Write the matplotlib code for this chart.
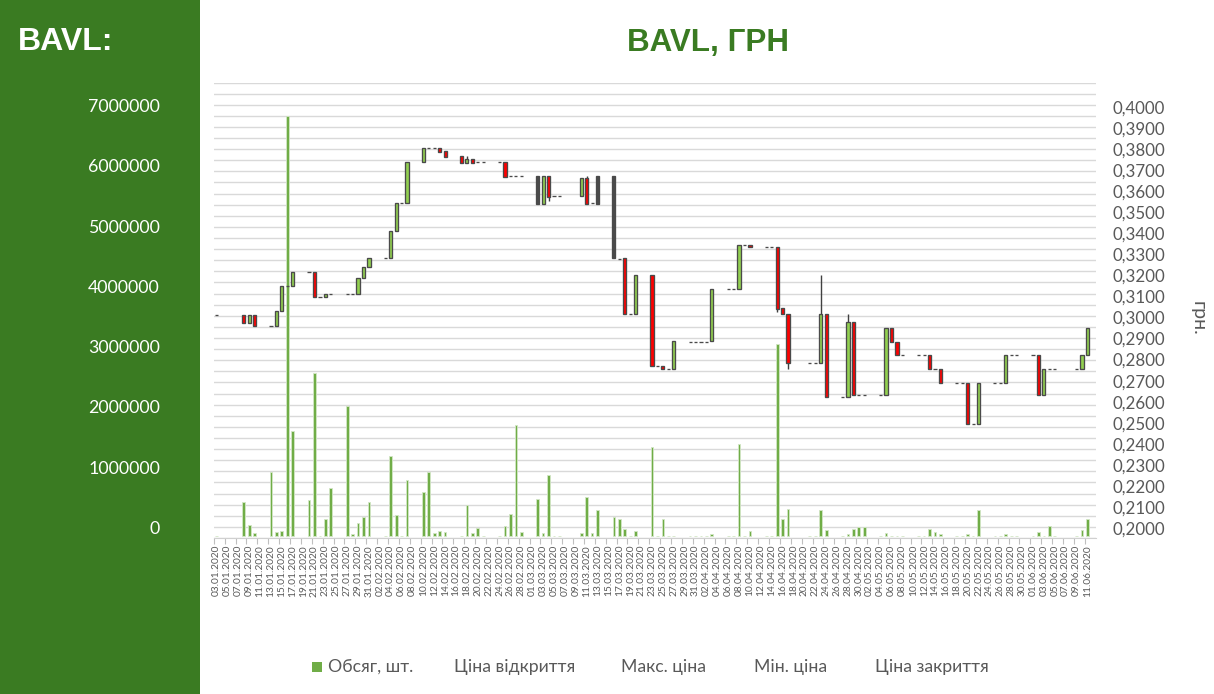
import numpy as np
import pandas as pd
import matplotlib
matplotlib.use('Agg')
import matplotlib.pyplot as plt
import matplotlib.dates as mdates
from matplotlib.patches import Rectangle
from matplotlib.ticker import FuncFormatter

plt.rcParams['font.family'] = ['Lato', 'DejaVu Sans']

# торгові дні (2020)
dates = ['03.01',
         '08.01', '09.01', '10.01',
         '13.01', '14.01', '15.01', '16.01', '17.01',
         '20.01', '21.01', '22.01', '23.01', '24.01',
         '27.01', '28.01', '29.01', '30.01', '31.01',
         '03.02', '04.02', '05.02', '06.02', '07.02',
         '10.02', '11.02', '12.02', '13.02', '14.02',
         '17.02', '18.02', '19.02', '20.02', '21.02',
         '24.02', '25.02', '26.02', '27.02', '28.02',
         '02.03', '03.03', '04.03', '05.03', '06.03',
         '10.03', '11.03', '12.03', '13.03',
         '16.03', '17.03', '18.03', '19.03', '20.03',
         '23.03', '24.03', '25.03', '26.03', '27.03',
         '30.03', '31.03', '01.04', '02.04', '03.04',
         '06.04', '07.04', '08.04', '09.04', '10.04',
         '13.04', '14.04', '15.04', '16.04', '17.04',
         '21.04', '22.04', '23.04', '24.04',
         '27.04', '28.04', '29.04', '30.04', '01.05',
         '04.05', '05.05', '06.05', '07.05', '08.05',
         '11.05', '12.05', '13.05', '14.05', '15.05',
         '18.05', '19.05', '20.05', '21.05', '22.05',
         '25.05', '26.05', '27.05', '28.05', '29.05',
         '01.06', '02.06', '03.06', '04.06', '05.06',
         '09.06', '10.06', '11.06']

open_ = [0.3010,
         0.3010, 0.2975, 0.3010,
         0.2961, 0.2961, 0.3029, 0.3148, 0.3148,
         0.3215, 0.3215, 0.3096, 0.3096, 0.3110,
         0.3110, 0.3110, 0.3110, 0.3186, 0.3238,
         0.3281, 0.3281, 0.3409, 0.3542, 0.3542,
         0.3737, 0.3804, 0.3804, 0.3804, 0.3791,
         0.3766, 0.3736, 0.3751, 0.3737, 0.3737,
         0.3737, 0.3737, 0.3670, 0.3670, 0.3670,
         0.3670, 0.3541, 0.3670, 0.3579, 0.3579,
         0.3579, 0.3661, 0.3542, 0.3541,
         0.3670, 0.3279, 0.3281, 0.3015, 0.3015,
         0.3200, 0.2768, 0.2768, 0.2754, 0.2754,
         0.2884, 0.2884, 0.2884, 0.2884, 0.2887,
         0.3134, 0.3134, 0.3134, 0.3343, 0.3343,
         0.3333, 0.3333, 0.3333, 0.3044, 0.3015,
         0.2782, 0.2782, 0.2782, 0.3015,
         0.2621, 0.2621, 0.2977, 0.2633, 0.2633,
         0.2633, 0.2633, 0.2949, 0.2885, 0.2820,
         0.2820, 0.2820, 0.2820, 0.2754, 0.2754,
         0.2687, 0.2687, 0.2687, 0.2492, 0.2492,
         0.2687, 0.2687, 0.2687, 0.2820, 0.2820,
         0.2820, 0.2820, 0.2633, 0.2754, 0.2754,
         0.2754, 0.2754, 0.2820]

close = [0.3010,
         0.2975, 0.3010, 0.2961,
         0.2961, 0.3029, 0.3148, 0.3148, 0.3215,
         0.3215, 0.3096, 0.3096, 0.3110, 0.3110,
         0.3110, 0.3110, 0.3186, 0.3238, 0.3281,
         0.3281, 0.3409, 0.3542, 0.3542, 0.3737,
         0.3804, 0.3804, 0.3804, 0.3788, 0.3764,
         0.3736, 0.3751, 0.3736, 0.3737, 0.3737,
         0.3737, 0.3669, 0.3670, 0.3670, 0.3670,
         0.3541, 0.3670, 0.3574, 0.3579, 0.3579,
         0.3661, 0.3541, 0.3542, 0.3670,
         0.3281, 0.3279, 0.3015, 0.3015, 0.3200,
         0.2768, 0.2768, 0.2754, 0.2754, 0.2887,
         0.2884, 0.2884, 0.2884, 0.2884, 0.3134,
         0.3134, 0.3134, 0.3343, 0.3343, 0.3333,
         0.3333, 0.3333, 0.3042, 0.3015, 0.2782,
         0.2782, 0.2782, 0.3015, 0.2621,
         0.2621, 0.2977, 0.2633, 0.2633, 0.2633,
         0.2633, 0.2949, 0.2885, 0.2820, 0.2820,
         0.2820, 0.2820, 0.2754, 0.2754, 0.2687,
         0.2687, 0.2687, 0.2492, 0.2492, 0.2687,
         0.2687, 0.2687, 0.2820, 0.2820, 0.2820,
         0.2820, 0.2633, 0.2754, 0.2754, 0.2754,
         0.2754, 0.2820, 0.2949]

# тіні, відмінні від тіла свічки
high_extra = {'18.02': 0.3766, '11.03': 0.3670, '23.04': 0.3200, '28.04': 0.3015}
low_extra = {'04.03': 0.3555, '15.04': 0.3028, '17.04': 0.2754}

volume = [0,
          558000, 182000, 50000,
          1067000, 61000, 83000, 6966000, 1742000,
          597000, 2704000, 0, 276000, 802000,
          2162000, 39000, 221000, 321000, 558000,
          0, 1327000, 343000, 0, 929000,
          724000, 1067000, 44000, 88000, 72000,
          0, 520000, 50000, 138000, 0,
          0, 166000, 370000, 1841000, 72000,
          614000, 50000, 1012000, 0, 0,
          44000, 652000, 50000, 426000,
          321000, 276000, 116000, 0, 88000,
          1471000, 0, 276000, 0, 0,
          0, 0, 0, 0, 39000,
          0, 0, 1520000, 0, 88000,
          0, 0, 3179000, 276000, 442000,
          0, 0, 426000, 100000,
          0, 39000, 111000, 149000, 149000,
          0, 44000, 0, 0, 0,
          0, 0, 111000, 61000, 30000,
          0, 0, 39000, 0, 426000,
          0, 0, 39000, 0, 0,
          0, 66000, 0, 166000, 0,
          0, 94000, 282000]

# свічки, що на картинці виглядають темними
dark_days = ['02.03', '13.03', '16.03']

vol_ticks = [0, 1000000, 2000000, 3000000, 4000000, 5000000, 6000000, 7000000]
price_ticks = np.round(np.arange(0.20, 0.4001, 0.01), 2)
legend_labels = ['Обсяг, шт.', 'Ціна відкриття', 'Макс. ціна', 'Мін. ціна', 'Ціна закриття']

GREEN = '#3a7b22'
GRAY = '#595959'

open_ = np.array(open_)
close = np.array(close)
high = np.maximum(open_, close)
low = np.minimum(open_, close)
for i, d in enumerate(dates):
    if d in high_extra:
        high[i] = high_extra[d]
    if d in low_extra:
        low[i] = low_extra[d]

dt = pd.to_datetime([d + '.2020' for d in dates], format='%d.%m.%Y')
x = mdates.date2num(dt)
tick_dt = pd.date_range('2020-01-03', '2020-06-11', freq='2D')
tick_x = mdates.date2num(tick_dt)

W, H = 1214, 694
fig = plt.figure(figsize=(W / 100, H / 100), dpi=100)
fig.add_artist(Rectangle((0, 0), 200 / W, 1, transform=fig.transFigure,
                         facecolor=GREEN, edgecolor='none', zorder=0))

left, right, top, bottom = 213.8, 1095.6, 82.5, 538
ax = fig.add_axes([left / W, 1 - bottom / H, (right - left) / W, (bottom - top) / H])

# сітка
for f in np.linspace(0, 1, 42):
    ax.plot([0, 1], [f, f], transform=ax.transAxes, color='#d9d9d9', lw=1.0, zorder=0)

ax.bar(x, volume, width=0.5, color='#70AD47', edgecolor='#d3e6c6', linewidth=0.6, zorder=2)
ax.set_ylim(-33172, 7521751)
ax.set_xlim(x[0] - 0.5, x[-1] + 1.5)
ax.set_yticks([])

for v in vol_ticks:
    ax.annotate(str(v), xy=(160, v), xycoords=('figure pixels', 'data'),
                xytext=(0, 7), textcoords='offset pixels', ha='right', va='center',
                color='white', fontsize=12.8, annotation_clip=False)

ax.set_xticks(tick_x)
ax.set_xticklabels([t.strftime('%d.%m.%Y') for t in tick_dt], rotation=90,
                   fontsize=7.3, color=GRAY)
ax.set_xticks(tick_x - 0.5, minor=True)
ax.tick_params(axis='x', which='major', length=0, pad=5)
ax.tick_params(axis='x', which='minor', length=4, color='#bfbfbf', width=0.8)
for s in ['top', 'left', 'right']:
    ax.spines[s].set_visible(False)
ax.spines['bottom'].set_color('#d0d0d0')

# ціни
axp = ax.twinx()
axp.vlines(x, low, high, color='#404040', lw=1.0, zorder=2)
fills = []
for i, d in enumerate(dates):
    if d in dark_days:
        fills.append('#4a4a4a')
    elif close[i] >= open_[i]:
        fills.append('#92D050')
    else:
        fills.append('#FF0000')
axp.bar(x, np.abs(close - open_), bottom=np.minimum(open_, close), width=0.58,
        color=fills, edgecolor='#4a4a4a', linewidth=0.95, zorder=3)
axp.set_ylim(0.195249, 0.411639)
axp.set_yticks(price_ticks)
axp.yaxis.set_major_formatter(FuncFormatter(lambda v, p: f'{v:.4f}'.replace('.', ',')))
axp.tick_params(axis='y', length=0, pad=12, labelsize=12.2, labelcolor=GRAY)
for s in axp.spines.values():
    s.set_visible(False)

fig.text(708 / W, 1 - 43 / H, 'BAVL, ГРН', ha='center', va='center', fontsize=22.6,
         fontweight='bold', color=GREEN, family='Liberation Sans')
fig.text(18 / W, 1 - 41.5 / H, 'BAVL:', ha='left', va='center', fontsize=23,
         fontweight='bold', color='white', family='Liberation Sans')
fig.text(1198 / W, 1 - 318 / H, 'грн.', ha='center', va='center', rotation=270,
         fontsize=14, color=GRAY)

# легенда
fig.add_artist(Rectangle((312 / W, 1 - 672 / H), 10 / W, 10 / H, transform=fig.transFigure,
                         facecolor='#70AD47', edgecolor='none'))
leg_x = [327.8, 454, 621, 754, 875]
for lx, lab in zip(leg_x, legend_labels):
    fig.text(lx / W, 1 - 667 / H, lab, ha='left', va='center', fontsize=12.7, color=GRAY)

fig.savefig('out.png', dpi=100)
